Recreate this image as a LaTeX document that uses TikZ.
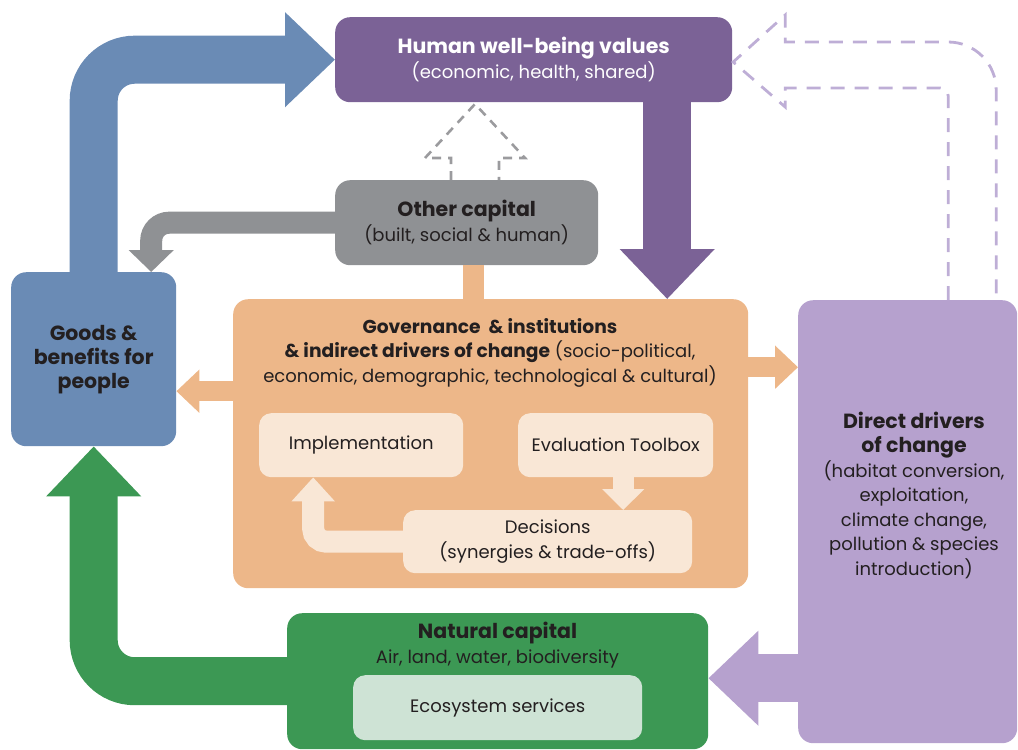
\documentclass[tikz,border=0pt]{standalone}
\usepackage{fontspec}
\setmainfont{Poppins}
\usetikzlibrary{arrows.meta,calc}
\definecolor{hwC}{RGB}{123,98,150}
\definecolor{blueC}{RGB}{106,139,181}
\definecolor{grayC}{RGB}{143,145,148}
\definecolor{orangeC}{RGB}{237,183,137}
\definecolor{innerC}{RGB}{249,231,214}
\definecolor{greenC}{RGB}{60,152,84}
\definecolor{ecoC}{RGB}{206,227,213}
\definecolor{lpurpleC}{RGB}{182,161,206}
\definecolor{ldashC}{RGB}{190,174,214}
\definecolor{gdashC}{RGB}{155,155,158}
\definecolor{ink}{RGB}{35,31,32}
\newcommand{\ttlfont}{\fontsize{20.5}{24.5}\selectfont\bfseries}
\begin{document}
\begin{tikzpicture}[x=1pt,y=-1pt,
  every node/.style={font=\fontsize{18}{24.5}\selectfont, text=ink},
  box/.style={rounded corners=15pt, anchor=north west, inner sep=0pt, align=center},
  ibox/.style={rounded corners=12pt, anchor=north west, inner sep=0pt, align=center, fill=innerC},
  txt/.style={align=center, inner sep=0pt},
  fat/.style={line width=48pt, -{Triangle[length=50pt,width=92pt]}, rounded corners=41pt},
  midarrow/.style={line width=20pt, -{Triangle[length=23pt,width=42pt]}},
  smallarrow/.style={line width=21pt, -{Triangle[length=21pt,width=41pt]}},
  dashg/.style={draw=gdashC, line width=2.6pt, dash pattern=on 9pt off 7pt},
  dashp/.style={draw=ldashC, line width=2.8pt, dash pattern=on 14pt off 10pt}
]
\useasboundingbox (0,0) rectangle (1018,750);

% main boxes
\node[box, fill=hwC, minimum width=397pt, minimum height=85pt, text=white] (hw) at (335,17)
  {{\ttlfont Human well-being values}\\(economic, health, shared)};
\node[box, fill=grayC, minimum width=263pt, minimum height=85pt] (oc) at (335,180)
  {{\ttlfont Other capital}\\(built, social \& human)};
\node[box, fill=blueC, minimum width=165pt, minimum height=174pt, font=\fontsize{20.5}{24}\selectfont\bfseries] (goods) at (11,272)
  {Goods \&\\benefits for\\people};
\node[box, fill=orangeC, minimum width=515pt, minimum height=289pt] (gov) at (233,299) {};
\node[box, fill=lpurpleC, minimum width=219pt, minimum height=443pt] (dd) at (798,300) {};
\node[box, fill=greenC, minimum width=421pt, minimum height=136pt] (nat) at (287,613) {};

% inner boxes
\node[ibox, minimum width=204pt, minimum height=64pt] (impl) at (259,413) {Implementation};
\node[ibox, minimum width=195pt, minimum height=64pt] (eval) at (518,413) {Evaluation Toolbox};
\node[ibox, minimum width=289pt, minimum height=63pt] (dec) at (403,510) {Decisions\\(synergies \& trade-offs)};
\node[box, rounded corners=12pt, fill=ecoC, minimum width=289pt, minimum height=65pt] (eco) at (353,675) {Ecosystem services};

% texts
\node[txt] (govtxt) at (490,352.5)
  {{\fontsize{18.7}{24.5}\selectfont\bfseries Governance\ \ \& institutions}\\{\fontsize{18.7}{24.5}\selectfont\bfseries \& indirect drivers of change} (socio-political,\\economic, demographic, technological \& cultural)};
\node[txt] (ddtxt) at (914,495)
  {{\ttlfont Direct drivers}\\{\ttlfont of change}\\(habitat conversion,\\exploitation,\\climate change,\\pollution \& species\\introduction)};
\node[txt] (nattxt) at (497.5,645)
  {{\ttlfont Natural capital}\\Air, land, water, biodiversity};

% helper coordinates
\coordinate (pd1) at ([xshift=133.5pt]hw.south);
\coordinate (pd2) at (pd1 |- gov.north);
\coordinate (gtip) at ([xshift=57.5pt]goods.north);
\coordinate (ocb) at ([xshift=7pt]oc.south);
\coordinate (ol) at ([yshift=52.5pt]gov.west);
\coordinate (orr) at ([yshift=76.5pt]gov.east);
\coordinate (pl) at ([yshift=-156.5pt]dd.west);
\coordinate (ed) at ([xshift=7.5pt]eval.south);
\coordinate (ix) at ([xshift=-48pt]impl.south);

% fat arrows
\draw[fat, draw=blueC] (goods.north) |- (hw.west);
\draw[fat, draw=greenC] (nat.west) -| (goods.south);
\draw[fat, draw=hwC] (pd1) -- (pd2);
\draw[fat, draw=lpurpleC] (pl) -- (pl -| nat.east);

% gray arrow
\draw[draw=grayC, line width=22pt, -{Triangle[length=22pt,width=44pt]}, rounded corners=18pt] (oc.west) -| (gtip);

% orange connectors
\draw[draw=orangeC, line width=21pt] (ocb) -- (ocb |- gov.north);
\draw[midarrow, draw=orangeC] (ol) -- (ol -| goods.east);
\draw[midarrow, draw=orangeC] (orr) -- (orr -| dd.west);

% inner arrows
\draw[smallarrow, draw=innerC] (ed) -- (ed |- dec.north);
\draw[draw=innerC, line width=22pt, -{Triangle[length=24pt,width=42pt]}, rounded corners=13pt] (dec.west) -| (ix);

% dashed gray outline arrow
\coordinate (ga) at (475,180);
\begin{scope}[shift={(ga)}]
\draw[dashg] (-24,0) -- (-24,-22) -- (-50,-22) -- (0,-76) -- (50,-22) -- (24,-22) -- (24,0);
\end{scope}

% dashed purple outline arrow
\coordinate (pa) at ([xshift=64.5pt]dd.north);
\begin{scope}[shift={(pa)}]
\draw[dashp] (-24,0) -- (-24,-204) .. controls (-24,-208.4) and (-27.6,-212) .. (-32,-212)
  -- (-187,-212) -- (-187,-193) -- (-239,-238) -- (-187,-285) -- (-187,-258)
  -- (-24,-258) .. controls (2.5,-258) and (24,-236.5) .. (24,-210) -- (24,0);
\end{scope}
\end{tikzpicture}
\end{document}
